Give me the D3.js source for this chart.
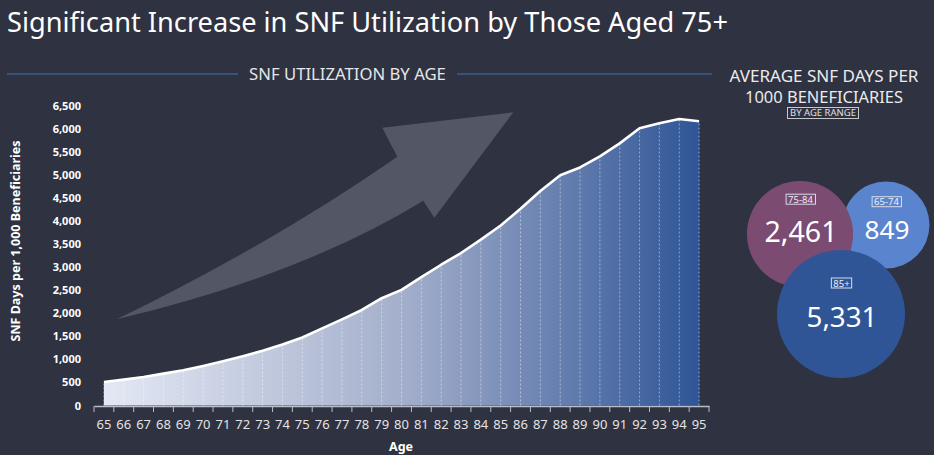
<!DOCTYPE html>
<html>
<head>
<meta charset="utf-8">
<script src="https://cdn.jsdelivr.net/npm/d3@7"></script>
<style>
  html, body { margin: 0; padding: 0; background: #2e3241; }
  svg { display: block; font-family: "Noto Sans", "Open Sans", sans-serif; }
</style>
</head>
<body>
<svg id="chart" width="934" height="455"></svg>
<script>
// data
const ages = d3.range(65, 96)
const snfDays = [510, 560, 617, 690, 762, 857, 958, 1067, 1184, 1322,
                 1474, 1670, 1866, 2070, 2324, 2505, 2782, 3050, 3304, 3595,
                 3900, 4263, 4648, 4989, 5157, 5396, 5680, 6006, 6115, 6209, 6159]
const yTicks = d3.range(0, 6501, 500)

const ageGroups = ["65-74", "75-84", "85+"]
const groupAverages = [849, 2461, 5331]
const groupColors = ["#5b84cf", "#7b4b72", "#2f5597"]

const W = 934, H = 455
const svg = d3.select("#chart")

// shrink/grow a text's font-size so it spans the given width
function fitWidth(sel, w) {
  sel.each(function() {
    const fs = parseFloat(this.getAttribute("font-size"))
    const len = this.getComputedTextLength()
    this.setAttribute("font-size", (fs * w / len).toFixed(2))
  })
  return sel
}

// title
svg.append("text")
  .attr("x", 7).attr("y", 32)
  .attr("fill", "#ffffff").attr("font-size", 27)
  .text("Significant Increase in SNF Utilization by Those Aged 75+")
  .call(fitWidth, 721)

// section header with rules
svg.append("line").attr("x1", 7).attr("x2", 238).attr("y1", 74).attr("y2", 74)
  .attr("stroke", "#3d5b8e").attr("stroke-width", 1.5)
svg.append("line").attr("x1", 457).attr("x2", 712).attr("y1", 74).attr("y2", 74)
  .attr("stroke", "#3d5b8e").attr("stroke-width", 1.5)
svg.append("text")
  .attr("x", 347.5).attr("y", 80).attr("text-anchor", "middle")
  .attr("fill", "#e6e6e6").attr("font-size", 15)
  .text("SNF UTILIZATION BY AGE")
  .call(fitWidth, 197)

// decorative arrow
svg.append("path")
  .attr("d", "M116.7,319.3 Q275,242 397.3,156.7 L382.3,127.7 L513.3,112.3 L434.3,217.7 L423.3,200.7 Q300,276 116.7,319.3 Z")
  .attr("fill", "#535664")

// scales
const x = d3.scaleBand().domain(ages).range([94, 709]).padding(0)
const cx = d => x(d) + x.bandwidth() / 2
const y = d3.scaleLinear().domain([0, 6500]).range([405.5, 105.5])

const pts = ages.map((a, i) => ({ age: a, v: snfDays[i] }))

// gradient fill
const defs = svg.append("defs")
const grad = defs.append("linearGradient")
  .attr("id", "areaGrad")
  .attr("gradientUnits", "userSpaceOnUse")
  .attr("x1", cx(65)).attr("x2", cx(95)).attr("y1", 0).attr("y2", 0)
grad.selectAll("stop")
  .data([[0, "#e3e8f4"], [0.5, "#a4afcb"], [1, "#2f5597"]])
  .join("stop")
  .attr("offset", d => d[0])
  .attr("stop-color", d => d[1])

const area = d3.area()
  .x(d => cx(d.age))
  .y0(y(0))
  .y1(d => y(d.v))

svg.append("path")
  .datum(pts)
  .attr("fill", "url(#areaGrad)")
  .attr("d", area)

// dotted drop lines
svg.append("g")
  .selectAll("line")
  .data(pts)
  .join("line")
  .attr("x1", d => cx(d.age)).attr("x2", d => cx(d.age))
  .attr("y1", y(0)).attr("y2", d => y(d.v))
  .attr("stroke", d => d.age === 95 ? "rgba(180,185,200,0.8)" : "rgba(255,255,255,0.45)")
  .attr("stroke-width", 1)
  .attr("stroke-dasharray", "2,2")

// line on top
svg.append("path")
  .datum(pts)
  .attr("fill", "none")
  .attr("stroke", "#ffffff")
  .attr("stroke-width", 2.6)
  .attr("stroke-linejoin", "round")
  .attr("d", d3.line().x(d => cx(d.age)).y(d => y(d.v)))

// x axis
const xAxis = svg.append("g")
  .attr("transform", `translate(0,${y(0) + 0.5})`)
  .call(d3.axisBottom(x).tickSize(0).tickPadding(14))
xAxis.select(".domain").attr("stroke", "#b9bdca").attr("stroke-width", 1.5)
xAxis.selectAll("text").attr("fill", "#e4e4e4").attr("font-size", 13)
  .attr("font-family", "Noto Sans, sans-serif")
xAxis.append("g")
  .selectAll("line")
  .data(ages.concat([96]))
  .join("line")
  .attr("x1", d => d === 96 ? 709 : x(d)).attr("x2", d => d === 96 ? 709 : x(d))
  .attr("y1", 0).attr("y2", 6)
  .attr("stroke", "#b9bdca").attr("stroke-width", 1)

svg.append("text")
  .attr("x", 401).attr("y", 451).attr("text-anchor", "middle")
  .attr("fill", "#ffffff").attr("font-size", 12.5).attr("font-weight", "bold")
  .text("Age")

// y axis
const yAxis = svg.append("g")
  .attr("transform", "translate(84,0)")
  .call(d3.axisLeft(y).tickValues(yTicks).tickSize(0).tickPadding(3).tickFormat(d3.format(",")))
yAxis.select(".domain").remove()
yAxis.selectAll("text").attr("fill", "#ffffff").attr("font-size", 11)
  .attr("font-weight", "bold").attr("font-family", "Noto Sans, sans-serif")

svg.append("text")
  .attr("transform", "translate(20,241) rotate(-90)")
  .attr("text-anchor", "middle")
  .attr("fill", "#ffffff").attr("font-size", 12.5).attr("font-weight", "bold")
  .text("SNF Days per 1,000 Beneficiaries")
  .call(fitWidth, 201)

// right panel heading
svg.append("text")
  .attr("x", 824).attr("y", 82).attr("text-anchor", "middle")
  .attr("fill", "#ebebeb").attr("font-size", 16)
  .text("AVERAGE SNF DAYS PER")
  .call(fitWidth, 189)
svg.append("text")
  .attr("x", 824).attr("y", 103).attr("text-anchor", "middle")
  .attr("fill", "#ebebeb").attr("font-size", 16)
  .text("1000 BENEFICIARIES")
  .call(fitWidth, 158)
svg.append("rect")
  .attr("x", 787.5).attr("y", 107.5).attr("width", 71).attr("height", 11)
  .attr("fill", "none").attr("stroke", "#c8c8c8").attr("stroke-width", 1)
svg.append("text")
  .attr("x", 823).attr("y", 116.3).attr("text-anchor", "middle")
  .attr("fill", "#e0e0e0").attr("font-size", 8)
  .text("BY AGE RANGE")
  .call(fitWidth, 66)

// bubbles
const r = d3.scaleSqrt().domain(d3.extent(groupAverages)).range([43.5, 64])
// layout of each bubble (centre, label box centre y, value baseline)
const bubbleLayout = [
  { cx: 886, cy: 225, labelY: 201.7, valueY: 238.5, valueW: 45, valueFs: 28 },
  { cx: 800, cy: 234, labelY: 199.2, valueY: 241.8, valueW: 73, valueFs: 33 },
  { cx: 841, cy: 314, labelY: 283, valueY: 326.8, valueW: 71, valueFs: 33 }
]
const bubbles = ageGroups.map((g, i) => Object.assign({ group: g, value: groupAverages[i], color: groupColors[i] }, bubbleLayout[i]))

const bg = svg.append("g")
  .selectAll("g")
  .data(bubbles)
  .join("g")

bg.append("circle")
  .attr("cx", d => d.cx).attr("cy", d => d.cy)
  .attr("r", d => r(d.value))
  .attr("fill", d => d.color)

const labels = bg.append("text")
  .attr("x", d => d.cx + 0.5).attr("y", d => d.labelY + 3.6)
  .attr("text-anchor", "middle")
  .attr("fill", "#eef0f6").attr("font-size", 9.5)
  .text(d => d.group)

labels.each(function(d) {
  const b = this.getBBox()
  d3.select(this.parentNode).insert("rect", "text")
    .attr("x", b.x - 2).attr("y", d.labelY - 5)
    .attr("width", b.width + 4).attr("height", 10)
    .attr("fill", "none").attr("stroke", "#d8dcea").attr("stroke-width", 1)
})

bg.append("text")
  .attr("x", d => d.cx + 1).attr("y", d => d.valueY)
  .attr("text-anchor", "middle")
  .attr("fill", "#ffffff")
  .attr("font-size", d => d.valueFs)
  .text(d => d3.format(",")(d.value))
  .each(function(d) { d3.select(this).call(fitWidth, d.valueW) })
</script>
</body>
</html>
